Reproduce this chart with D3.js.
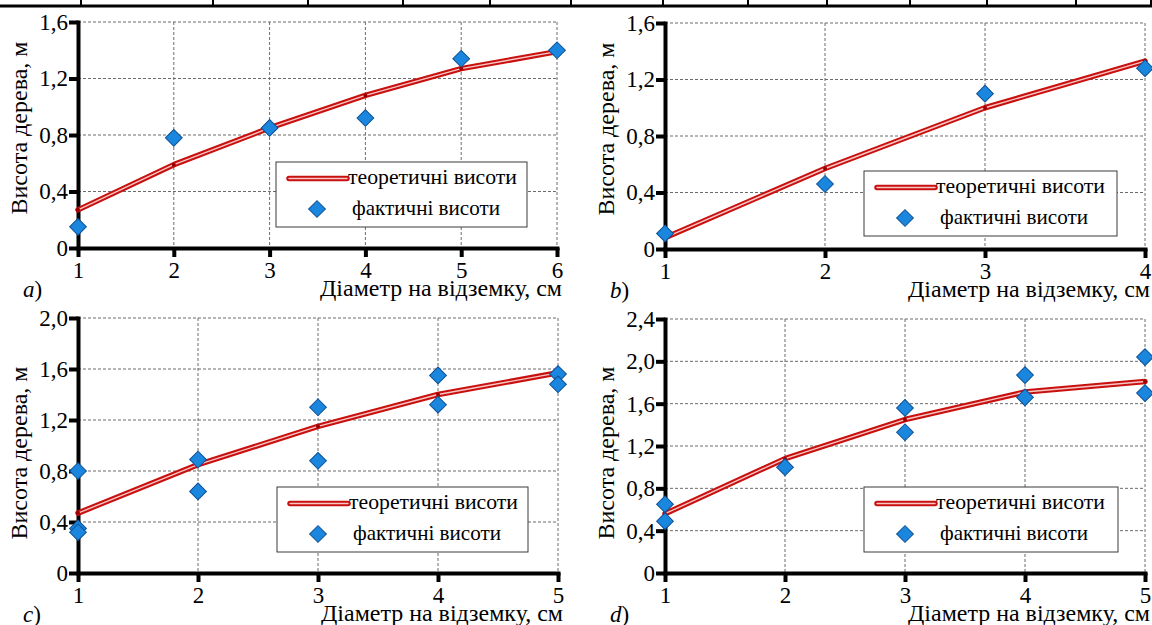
<!DOCTYPE html>
<html>
<head>
<meta charset="utf-8">
<script src="https://cdn.jsdelivr.net/npm/d3@7"></script>
</head>
<body style="margin:0;background:#fff">
<svg id="chart" width="1152" height="625" font-family="Liberation Serif"></svg>
<script>
// ---- data ----
var xTitle = "Діаметр на відземку, см";
var yTitle = "Висота дерева, м";
var legendTheor = "теоретичні висоти";
var legendFact = "фактичні висоти";

// panel a
var xA = [1, 2, 3, 4, 5, 6];
var theorA = [0.27, 0.59, 0.85, 1.08, 1.27, 1.39];
var factAx = [1, 2, 3, 4, 5, 6];
var factAy = [0.15, 0.78, 0.85, 0.92, 1.34, 1.40];
var yTicksA = [0, 0.4, 0.8, 1.2, 1.6];

// panel b
var xB = [1, 2, 3, 4];
var theorB = [0.08, 0.57, 1.00, 1.33];
var factBx = [1, 2, 3, 4];
var factBy = [0.11, 0.46, 1.10, 1.28];
var yTicksB = [0, 0.4, 0.8, 1.2, 1.6];

// panel c
var xC = [1, 2, 3, 4, 5];
var theorC = [0.47, 0.85, 1.15, 1.40, 1.57];
var factCx = [1, 1, 1, 2, 2, 3, 3, 4, 4, 5, 5];
var factCy = [0.80, 0.35, 0.32, 0.89, 0.64, 1.30, 0.88, 1.55, 1.32, 1.56, 1.48];
var yTicksC = [0, 0.4, 0.8, 1.2, 1.6, 2.0];

// panel d
var xD = [1, 2, 3, 4, 5];
var theorD = [0.56, 1.08, 1.45, 1.71, 1.81];
var factDx = [1, 1, 2, 3, 3, 4, 4, 5, 5];
var factDy = [0.65, 0.49, 1.00, 1.56, 1.33, 1.87, 1.66, 2.04, 1.70];
var yTicksD = [0, 0.4, 0.8, 1.2, 1.6, 2.0, 2.4];

// ---- layout ----
var panels = [
	{ label: "a", x: xA, theor: theorA, fx: factAx, fy: factAy, yTicks: yTicksA,
	  left: 78, right: 557, top: 22, bottom: 248, leg: [276, 162, 251] },
	{ label: "b", x: xB, theor: theorB, fx: factBx, fy: factBy, yTicks: yTicksB,
	  left: 665, right: 1145, top: 23, bottom: 249, leg: [864, 171, 253] },
	{ label: "c", x: xC, theor: theorC, fx: factCx, fy: factCy, yTicks: yTicksC,
	  left: 78, right: 558, top: 318, bottom: 573, leg: [277, 487, 251] },
	{ label: "d", x: xD, theor: theorD, fx: factDx, fy: factDy, yTicks: yTicksD,
	  left: 665, right: 1145, top: 319, bottom: 573, leg: [864, 487, 254] }
];

var red = "#c8110f";
var redInner = "#f7c6c4";
var blue = "#1a86de";
var blueEdge = "#0d5196";

var svg = d3.select("#chart");

// remnant of the table border above the figure
var tableCols = [81, 213, 308, 403, 490, 571, 663, 748, 827, 910, 987, 1076, 1151];
svg.append("line").attr("x1", 0).attr("x2", 1152).attr("y1", 6).attr("y2", 6)
	.attr("stroke", "#000").attr("stroke-width", 3);
svg.selectAll("line.col").data(tableCols).enter().append("line")
	.attr("class", "col")
	.attr("x1", function (d) { return d; }).attr("x2", function (d) { return d; })
	.attr("y1", 0).attr("y2", 6)
	.attr("stroke", "#000").attr("stroke-width", 2);

var fmtY = function (d) {
	return d === 0 ? "0" : d3.format(".1f")(d).replace(".", ",");
};

var diamond = d3.symbol().type(d3.symbolSquare).size(140);

function drawRedLine(g, pathD) {
	g.append("path").attr("d", pathD).attr("fill", "none")
		.attr("stroke", red).attr("stroke-width", 5.5)
		.attr("stroke-linejoin", "round").attr("stroke-linecap", "round");
	g.append("path").attr("d", pathD).attr("fill", "none")
		.attr("stroke", redInner).attr("stroke-width", 1.4)
		.attr("stroke-linejoin", "round").attr("stroke-linecap", "round");
}

function drawDiamond(g, cx, cy) {
	g.append("path").attr("d", diamond())
		.attr("transform", "translate(" + cx + "," + cy + ") rotate(45)")
		.attr("fill", blue).attr("stroke", blueEdge).attr("stroke-width", 1);
}

panels.forEach(function (p) {
	var xMin = d3.min(p.x), xMax = d3.max(p.x);
	var x = d3.scaleLinear().domain([xMin, xMax]).range([p.left, p.right]);
	var y = d3.scaleLinear().domain([0, d3.max(p.yTicks)]).range([p.bottom, p.top]);
	var g = svg.append("g");

	// dashed grid
	g.selectAll("line.gx").data(p.x).enter().append("line")
		.attr("x1", x).attr("x2", x).attr("y1", p.top).attr("y2", p.bottom)
		.attr("stroke", "#6b6b6b").attr("stroke-width", 1).attr("stroke-dasharray", "3,2");
	g.selectAll("line.gy").data(p.yTicks).enter().append("line")
		.attr("y1", y).attr("y2", y).attr("x1", p.left).attr("x2", p.right)
		.attr("stroke", "#6b6b6b").attr("stroke-width", 1).attr("stroke-dasharray", "3,2");

	// axes
	var gx = g.append("g").attr("transform", "translate(0," + p.bottom + ")")
		.call(d3.axisBottom(x).tickValues(p.x).tickSize(9).tickSizeOuter(0)
			.tickPadding(5).tickFormat(d3.format("d")));
	var gy = g.append("g").attr("transform", "translate(" + p.left + ",0)")
		.call(d3.axisLeft(y).tickValues(p.yTicks).tickSize(9).tickSizeOuter(0)
			.tickPadding(1).tickFormat(fmtY));
	[gx, gy].forEach(function (a) {
		a.attr("font-family", "Liberation Serif").attr("font-size", 23);
		a.select(".domain").attr("stroke", "#000").attr("stroke-width", 4)
			.attr("stroke-linecap", "square");
		a.selectAll(".tick line").attr("stroke", "#000").attr("stroke-width", 4);
		a.selectAll(".tick text").attr("fill", "#000");
	});

	// theoretical heights
	var line = d3.line()
		.x(function (d, i) { return x(p.x[i]); })
		.y(function (d) { return y(d); });
	drawRedLine(g, line(p.theor));
	g.selectAll("circle.v").data(p.theor).enter().append("circle")
		.attr("cx", function (d, i) { return x(p.x[i]); })
		.attr("cy", y).attr("r", 2).attr("fill", "#9a0000");

	// actual heights
	p.fy.forEach(function (v, i) {
		drawDiamond(g, x(p.fx[i]), y(v));
	});

	// axis titles and panel letter
	g.append("text").attr("x", p.right + 5).attr("y", p.bottom + 48)
		.attr("text-anchor", "end").attr("font-size", 23)
		.attr("textLength", 242).attr("lengthAdjust", "spacingAndGlyphs")
		.text(xTitle);
	g.append("text")
		.attr("transform", "translate(" + (p.left - 51) + "," + (p.bottom - 120) + ") rotate(-90)")
		.attr("text-anchor", "middle").attr("font-size", 23)
		.attr("textLength", 173).attr("lengthAdjust", "spacingAndGlyphs")
		.text(yTitle);
	var lt = g.append("text").attr("x", p.left - 55).attr("y", p.bottom + 49)
		.attr("font-size", 23);
	lt.append("tspan").attr("font-style", "italic").text(p.label);
	lt.append("tspan").text(")");

	// legend
	var lg = g.append("g").attr("transform", "translate(" + p.leg[0] + "," + p.leg[1] + ")");
	lg.append("rect").attr("width", p.leg[2]).attr("height", 65)
		.attr("fill", "#fff").attr("stroke", "#3a3a3a").attr("stroke-width", 1);
	drawRedLine(lg, "M13,16.5H71");
	lg.append("text").attr("x", 72).attr("y", 22).attr("font-size", 22)
		.attr("textLength", 169).attr("lengthAdjust", "spacingAndGlyphs")
		.text(legendTheor);
	drawDiamond(lg, 41, 47);
	lg.append("text").attr("x", 76).attr("y", 53).attr("font-size", 22)
		.attr("textLength", 148).attr("lengthAdjust", "spacingAndGlyphs")
		.text(legendFact);
});

svg.selectAll("text")
	.style("font-family", "'Liberation Serif'")
	.attr("fill", "#000");
</script>
</body>
</html>
